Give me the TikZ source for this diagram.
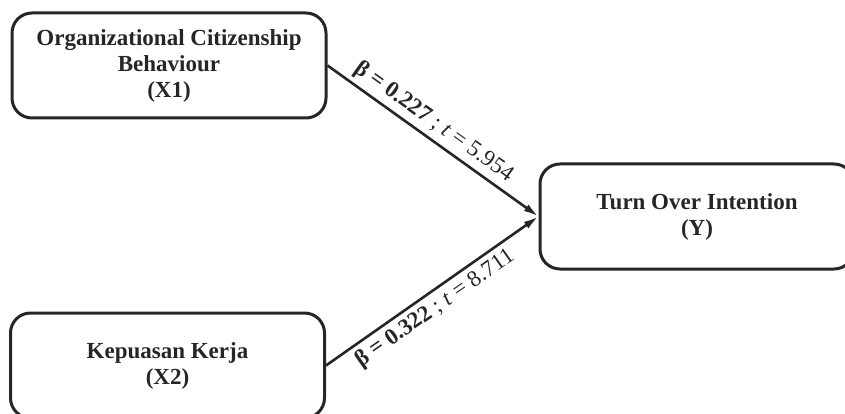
\documentclass[tikz,border=0pt]{standalone}
\usepackage{fontspec}
\setmainfont{Liberation Serif}
\usetikzlibrary{arrows.meta}

\begin{document}
\begin{tikzpicture}[x=1pt,y=-1pt,
    box/.style={draw=black!85,line width=3pt,rounded corners=20pt,
      minimum width=314pt,minimum height=105pt,align=center,
      text=black!85,font=\bfseries\fontsize{23}{26}\selectfont},
    link/.style={draw=black!85,line width=2.6pt,
      -{Latex[length=15pt,width=8pt]}},
    coef/.style={text=black!85,font=\fontsize{23}{26}\selectfont,sloped,inner sep=4pt}]
  \useasboundingbox (0,0) rectangle (845,414);
  % constructs
  \node[box] (ocb) at (169,65.5) {Organizational Citizenship\\Behaviour\\(X1)};
  \node[box] (kk)  at (167.5,365.5) {Kepuasan Kerja\\(X2)};
  \node[box] (toi) at (697,216.5) {Turn Over Intention\\(Y)};
  % paths
  \draw[link] (ocb.east) -- (toi.west)
    node[coef,pos=.46,above]{\textbf{β = 0.227} ; \textit{t} = 5.954};
  \draw[link] (kk.east) -- (toi.west)
    node[coef,pos=.47,below]{\textbf{β = 0.322} ; \textit{t} = 8.711};
\end{tikzpicture}
\end{document}
